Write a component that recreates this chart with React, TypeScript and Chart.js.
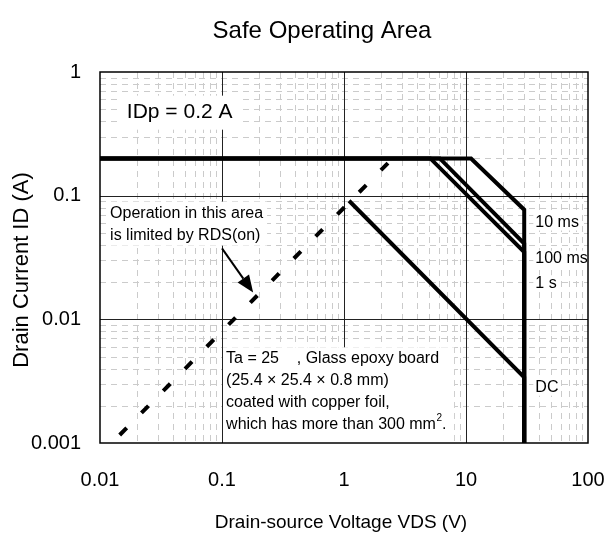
import React, { useEffect, useRef } from 'react';
import { Chart, registerables } from 'chart.js';

Chart.register(...registerables);

// ---------- data ----------
const xTicks = [0.01, 0.1, 1, 10, 100];
const xTickLabels = ['0.01', '0.1', '1', '10', '100'];
const yTicks = [0.001, 0.01, 0.1, 1];
const yTickLabels = ['0.001', '0.01', '0.1', '1'];

const ms10V = [0.01, 11, 30, 30];
const ms10I = [0.2, 0.2, 0.077, 0.001];
const ms100V = [0.01, 6.1, 30, 30];
const ms100I = [0.2, 0.2, 0.041, 0.001];
const s1V = [0.01, 5.1, 30, 30];
const s1I = [0.2, 0.2, 0.035, 0.001];
const dcV = [1.1, 30, 30];
const dcI = [0.091, 0.0034, 0.001];
const rdsV = [0.0145, 2.5];
const rdsI = [0.00116, 0.2];

const curveLabels = ['10 ms', '100 ms', '1 s', 'DC'];
const curveLabelI = [0.0607, 0.031, 0.0196, 0.0028];
const curveLabelV = 37;

const titleText = 'Safe Operating Area';
const xTitle = 'Drain-source Voltage VDS (V)';
const yTitle = 'Drain Current ID (A)';
const noteIDp = 'IDp = 0.2 A';
const noteRds = ['Operation in this area', 'is limited by RDS(on)'];
const noteBoard = ['Ta = 25    , Glass epoxy board', '(25.4 × 25.4 × 0.8 mm)', 'coated with copper foil,', 'which has more than 300 mm'];

const FONT = '"Liberation Sans", Arial, Helvetica, sans-serif';

const zip = (vs: number[], is: number[]) => vs.map((v, i) => ({ x: v, y: is[i] }));

const decadeMinors = (ticks: number[]) => {
  const out: number[] = [];
  for (let i = 0; i < ticks.length - 1; i++) {
    for (let m = 2; m <= 9; m++) out.push(m * ticks[i]);
  }
  return out;
};

const soaPlugin = {
  id: 'soaDecor',
  beforeDatasetsDraw(chart: any) {
    const { ctx, chartArea: a, scales } = chart;
    const xs = scales.x;
    const ys = scales.y;
    ctx.save();
    // minor grid
    ctx.strokeStyle = '#cbcbcb';
    ctx.lineWidth = 1;
    ctx.setLineDash([6, 5]);
    for (const v of decadeMinors(xTicks)) {
      const px = Math.round(xs.getPixelForValue(v)) + 0.5;
      ctx.beginPath();
      ctx.moveTo(px, a.top);
      ctx.lineTo(px, a.bottom);
      ctx.stroke();
    }
    for (const v of decadeMinors(yTicks)) {
      const py = Math.round(ys.getPixelForValue(v)) + 0.5;
      ctx.beginPath();
      ctx.moveTo(a.left, py);
      ctx.lineTo(a.right, py);
      ctx.stroke();
    }
    // major grid
    ctx.setLineDash([]);
    ctx.strokeStyle = '#222';
    for (const v of xTicks.slice(1, -1)) {
      const px = Math.round(xs.getPixelForValue(v)) + 0.5;
      ctx.beginPath();
      ctx.moveTo(px, a.top);
      ctx.lineTo(px, a.bottom);
      ctx.stroke();
    }
    for (const v of yTicks.slice(1, -1)) {
      const py = Math.round(ys.getPixelForValue(v)) + 0.5;
      ctx.beginPath();
      ctx.moveTo(a.left, py);
      ctx.lineTo(a.right, py);
      ctx.stroke();
    }

    // white label backgrounds
    ctx.fillStyle = '#fff';
    const X = (v: number) => xs.getPixelForValue(v);
    const Y = (v: number) => ys.getPixelForValue(v);
    // IDp
    const idpX = X(0.0166);
    const idpY = Y(0.469);
    ctx.font = `21px ${FONT}`;
    const idpW = ctx.measureText(noteIDp).width;
    ctx.fillRect(idpX - 6, idpY - 17, idpW + 12, 34);
    // RDS note
    const rdsX = X(0.0121);
    const rdsY = Y(0.0716);
    ctx.font = `16px ${FONT}`;
    const rdsW = Math.max(...noteRds.map((t) => ctx.measureText(t).width));
    ctx.fillRect(rdsX - 4, rdsY - 12, rdsW + 8, 44);
    // board note
    const bX = X(0.108);
    const bY = Y(0.00484);
    const bW = Math.max(...noteBoard.map((t) => ctx.measureText(t).width)) + 14;
    ctx.fillRect(X(0.1) + 1, bY - 11, bW + (bX - X(0.1)), a.bottom - (bY - 11));
    // curve labels
    curveLabels.forEach((t, i) => {
      const w = ctx.measureText(t).width;
      ctx.fillRect(X(curveLabelV) - 2, Y(curveLabelI[i]) - 8, w + 4, 16);
    });

    // texts
    ctx.fillStyle = '#000';
    ctx.textBaseline = 'middle';
    ctx.textAlign = 'left';
    ctx.font = `21px ${FONT}`;
    ctx.fillText(noteIDp, idpX, idpY);
    ctx.font = `16px ${FONT}`;
    noteRds.forEach((t, i) => ctx.fillText(t, rdsX, rdsY + i * 22));
    noteBoard.forEach((t, i) => ctx.fillText(t, bX, bY + i * 22));
    const last = noteBoard[noteBoard.length - 1];
    const lw = ctx.measureText(last).width;
    const ly = bY + (noteBoard.length - 1) * 22;
    ctx.font = `10px ${FONT}`;
    ctx.fillText('2', bX + lw + 0.5, ly - 6);
    const sw = ctx.measureText('2').width;
    ctx.font = `16px ${FONT}`;
    ctx.fillText('.', bX + lw + sw + 0.5, ly);
    curveLabels.forEach((t, i) => ctx.fillText(t, X(curveLabelV), Y(curveLabelI[i])));
    ctx.restore();
  },
  afterDatasetsDraw(chart: any) {
    const { ctx, chartArea: a, scales } = chart;
    const xs = scales.x;
    const ys = scales.y;
    ctx.save();
    // frame
    ctx.strokeStyle = '#000';
    ctx.lineWidth = 1.5;
    ctx.strokeRect(a.left, a.top, a.right - a.left, a.bottom - a.top);
    // arrow
    const x0 = xs.getPixelForValue(0.1);
    const y0 = ys.getPixelForValue(0.0375);
    const x1 = xs.getPixelForValue(0.18);
    const y1 = ys.getPixelForValue(0.0165);
    const ang = Math.atan2(y1 - y0, x1 - x0);
    const hl = 17;
    const hw = 7;
    const bx = x1 - hl * Math.cos(ang);
    const by = y1 - hl * Math.sin(ang);
    ctx.lineWidth = 2;
    ctx.beginPath();
    ctx.moveTo(x0, y0);
    ctx.lineTo(bx, by);
    ctx.stroke();
    ctx.fillStyle = '#000';
    ctx.beginPath();
    ctx.moveTo(x1, y1);
    ctx.lineTo(bx + hw * Math.sin(ang), by - hw * Math.cos(ang));
    ctx.lineTo(bx - hw * Math.sin(ang), by + hw * Math.cos(ang));
    ctx.closePath();
    ctx.fill();

    // titles
    ctx.fillStyle = '#000';
    ctx.textAlign = 'center';
    ctx.textBaseline = 'middle';
    ctx.font = `24px ${FONT}`;
    ctx.fillText(titleText, 322, 31);
    ctx.font = `19px ${FONT}`;
    ctx.fillText(xTitle, (a.left + a.right) / 2 - 3, 523);
    ctx.translate(22, 270);
    ctx.rotate(-Math.PI / 2);
    ctx.font = `22px ${FONT}`;
    ctx.fillText(yTitle, 0, 0);
    ctx.restore();
  },
};

const lineDs = (label: string, data: { x: number; y: number }[], extra: any = {}) => ({
  label,
  data,
  showLine: true,
  borderColor: '#000',
  backgroundColor: '#000',
  borderWidth: 4,
  pointRadius: 0,
  fill: false,
  tension: 0,
  borderJoinStyle: 'miter',
  borderCapStyle: 'butt',
  ...extra,
});

export default function App() {
  const ref = useRef<HTMLCanvasElement | null>(null);
  useEffect(() => {
    if (!ref.current) return;
    const chart = new Chart(ref.current, {
      type: 'scatter',
      data: {
        datasets: [
          lineDs('10 ms', zip(ms10V, ms10I)),
          lineDs('100 ms', zip(ms100V, ms100I)),
          lineDs('1 s', zip(s1V, s1I)),
          lineDs('DC', zip(dcV, dcI)),
          lineDs('RDS(on)', zip(rdsV, rdsI), { borderDash: [10, 21] }),
        ],
      },
      options: {
        responsive: false,
        animation: false,
        devicePixelRatio: 1,
        layout: { padding: { left: 0, right: 27, top: 72, bottom: 0 } },
        plugins: {
          legend: { display: false },
          tooltip: { enabled: false },
          title: { display: false },
        },
        scales: {
          x: {
            type: 'logarithmic',
            min: xTicks[0],
            max: xTicks[xTicks.length - 1],
            afterBuildTicks: (s: any) => {
              s.ticks = xTicks.map((v) => ({ value: v }));
            },
            afterFit: (s: any) => {
              s.height = 93;
              s.paddingLeft = 0;
              s.paddingRight = 0;
            },
            ticks: {
              callback: (_v: any, i: number) => xTickLabels[i],
              color: '#000',
              font: { family: FONT, size: 20 },
              padding: 25,
              autoSkip: false,
              maxRotation: 0,
            },
            grid: { display: false, drawTicks: false },
            border: { display: false },
          },
          y: {
            type: 'logarithmic',
            min: yTicks[0],
            max: yTicks[yTicks.length - 1],
            afterBuildTicks: (s: any) => {
              s.ticks = yTicks.map((v) => ({ value: v }));
            },
            afterFit: (s: any) => {
              s.width = 100;
              s.paddingTop = 0;
              s.paddingBottom = 0;
            },
            ticks: {
              callback: (_v: any, i: number) => yTickLabels[i],
              color: '#000',
              font: { family: FONT, size: 20 },
              padding: 19,
              autoSkip: false,
            },
            grid: { display: false, drawTicks: false },
            border: { display: false },
          },
        },
      } as any,
      plugins: [soaPlugin],
    });
    return () => chart.destroy();
  }, []);
  return (
    <div style={{ position: 'absolute', left: 0, top: 0, width: 615, height: 536 }}>
      <canvas ref={ref} width={615} height={536} style={{ width: 615, height: 536 }} />
    </div>
  );
}
